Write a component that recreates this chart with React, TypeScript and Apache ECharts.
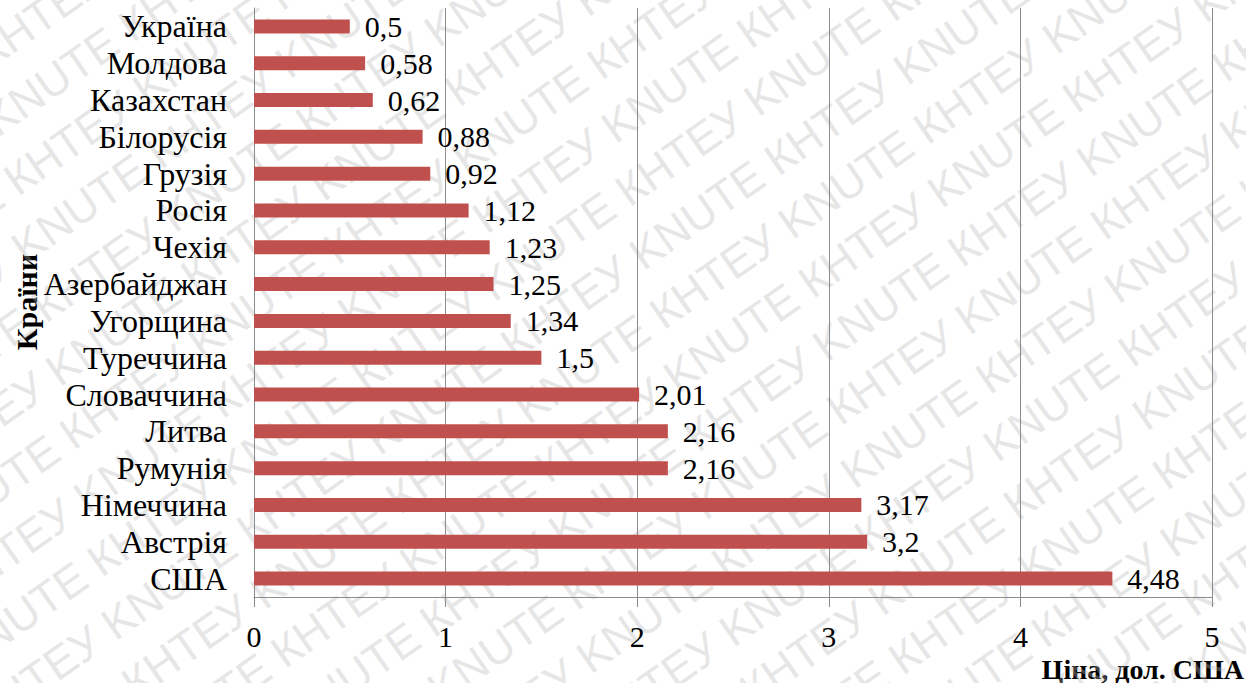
import React, { useEffect, useRef } from "react";
import * as echarts from "echarts";

// Countries, top to bottom
const categories = [
  "Україна",
  "Молдова",
  "Казахстан",
  "Білорусія",
  "Грузія",
  "Росія",
  "Чехія",
  "Азербайджан",
  "Угорщина",
  "Туреччина",
  "Словаччина",
  "Литва",
  "Румунія",
  "Німеччина",
  "Австрія",
  "США",
];

// Price, USD
const prices = [0.5, 0.58, 0.62, 0.88, 0.92, 1.12, 1.23, 1.25, 1.34, 1.5, 2.01, 2.16, 2.16, 3.17, 3.2, 4.48];

const xMin = 0;
const xMax = 5;
const xStep = 1;

const yTitle = "Країни";
const xTitle = "Ціна, дол. США";
const stampWords = "КНТЕУ KNUTE";

const SERIF = "Liberation Serif";
const GRID_COLOR = "#8c8c8c";
const BAR_COLOR = "#c0504d";

const fmt = (v: number) => String(v).replace(".", ",");

function buildStamp() {
  const rows: any[] = [];
  const line = Array(9).fill(stampWords).join(" ");
  const gap = 60;
  for (let i = -13; i <= 13; i++) {
    rows.push({
      type: "text",
      x: -1250 + ((i * 140) % 330),
      y: i * gap,
      silent: true,
      style: {
        text: line,
        font: "45px Liberation Sans",
        fill: "rgba(185,185,185,0.34)",
        verticalAlign: "middle",
      },
    });
  }
  return {
    type: "group",
    x: 623,
    y: 341,
    rotation: (35 * Math.PI) / 180,
    z: 100,
    silent: true,
    children: rows,
  };
}

export default function App() {
  const ref = useRef<HTMLDivElement>(null);

  useEffect(() => {
    if (!ref.current) return;
    const chart = echarts.init(ref.current, undefined, { renderer: "svg" });
    chart.setOption({
      animation: false,
      backgroundColor: "#ffffff",
      textStyle: { fontFamily: SERIF },
      grid: { left: 254, right: 34, top: 8, bottom: 86, containLabel: false },
      xAxis: {
        type: "value",
        min: xMin,
        max: xMax,
        interval: xStep,
        axisLine: { show: true, lineStyle: { color: GRID_COLOR, width: 1 } },
        axisTick: { show: true, length: 10, lineStyle: { color: GRID_COLOR } },
        axisLabel: {
          margin: 24,
          color: "#000",
          fontFamily: SERIF,
          fontSize: 30,
          formatter: (v: number) => fmt(v),
        },
        splitLine: { show: true, lineStyle: { color: GRID_COLOR, width: 1 } },
      },
      yAxis: {
        type: "category",
        data: categories,
        inverse: true,
        axisLine: { show: true, lineStyle: { color: GRID_COLOR, width: 1 } },
        axisTick: { show: false },
        axisLabel: {
          interval: 0,
          hideOverlap: false,
          margin: 27,
          color: "#000",
          fontFamily: SERIF,
          fontSize: 32,
        },
        splitLine: { show: false },
      },
      series: [
        {
          type: "bar",
          data: prices,
          barWidth: 14,
          itemStyle: { color: BAR_COLOR },
          label: {
            show: true,
            position: "right",
            distance: 15,
            color: "#000",
            fontFamily: SERIF,
            fontSize: 30,
            formatter: (p: any) => fmt(p.value),
          },
        },
      ],
      graphic: [
        {
          type: "text",
          x: 26,
          y: 302,
          rotation: Math.PI / 2,
          style: {
            text: yTitle,
            font: `bold 30px ${SERIF}`,
            fill: "#000",
            align: "center",
            verticalAlign: "middle",
          },
        },
        {
          type: "text",
          x: 1244,
          y: 669,
          style: {
            text: xTitle,
            font: `bold 28px ${SERIF}`,
            fill: "#000",
            align: "right",
            verticalAlign: "middle",
          },
        },
        buildStamp(),
      ],
    });
    return () => chart.dispose();
  }, []);

  return (
    <div
      ref={ref}
      style={{ position: "fixed", left: 0, top: 0, width: 1246, height: 683, background: "#fff" }}
    />
  );
}
